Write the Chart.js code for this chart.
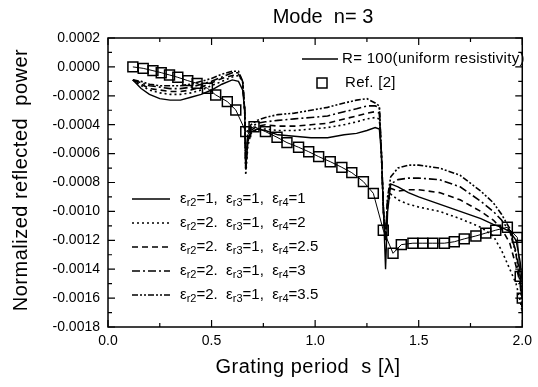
<!DOCTYPE html>
<html>
<head>
<meta charset="utf-8">
<script src="https://cdn.jsdelivr.net/npm/chart.js@4.4.1/dist/chart.umd.min.js"></script>
<style>
  html, body { margin: 0; padding: 0; background: #fff; }
</style>
</head>
<body>
<canvas id="chart" width="538" height="387"></canvas>
<script>
// grating period s [lambda] shared by the five computed curves
const periods = [0.12, 0.16, 0.2, 0.25, 0.3, 0.35, 0.4, 0.45, 0.5, 0.55, 0.6, 0.63, 0.65, 0.66, 0.665, 0.675, 0.69,
  0.72, 0.76, 0.82, 0.9, 0.98, 1.06, 1.14, 1.2, 1.25, 1.29, 1.31, 1.32, 1.33, 1.34, 1.35, 1.365,
  1.4, 1.45, 1.5, 1.6, 1.7, 1.8, 1.86, 1.9, 1.94, 1.97, 1.99, 2.0];

// normalized reflected power for each permittivity set
const power_r4_1 = [-0.00009, -0.00015, -0.00019, -0.00022, -0.00023, -0.00023, -0.00021, -0.00019, -0.00016, -0.00012, -0.00009, -0.0001, -0.00016, -0.0003, -0.0007, -0.00052, -0.00045,
  -0.00043, -0.00044, -0.00047, -0.00048, -0.00049, -0.00049, -0.00047, -0.00046, -0.00044, -0.00042, -0.00043, -0.0006, -0.001, -0.0014, -0.001, -0.00081,
  -0.00083, -0.00087, -0.0009, -0.00095, -0.001, -0.00105, -0.00109, -0.00111, -0.00114, -0.0012, -0.00135, -0.0015];
const power_r4_2 = [-0.00009, -0.00013, -0.00016, -0.00018, -0.00019, -0.00019, -0.00018, -0.00016, -0.00013, -0.0001, -0.00007, -0.00006, -0.0001, -0.0003, -0.00075, -0.00055, -0.00046,
  -0.00043, -0.00043, -0.00044, -0.00044, -0.00043, -0.00042, -0.0004, -0.00038, -0.00036, -0.00035, -0.00036, -0.0006, -0.001, -0.0012, -0.00095, -0.00088,
  -0.00092, -0.00095, -0.00097, -0.001, -0.00105, -0.00111, -0.00117, -0.00127, -0.0014, -0.0015, -0.00162, -0.0017];
const power_r4_25 = [-0.00009, -0.00012, -0.00015, -0.00016, -0.00017, -0.00017, -0.00016, -0.00014, -0.00011, -0.00008, -0.00006, -0.00005, -0.0001, -0.0003, -0.00072, -0.0005, -0.00044,
  -0.00041, -0.0004, -0.00041, -0.00041, -0.0004, -0.00039, -0.00036, -0.00034, -0.00032, -0.00031, -0.00032, -0.0006, -0.001, -0.0012, -0.00093, -0.00084,
  -0.00086, -0.00085, -0.00085, -0.00087, -0.00092, -0.001, -0.00106, -0.00112, -0.00122, -0.00138, -0.0015, -0.0016];
const power_r4_3 = [-0.00009, -0.00011, -0.00013, -0.00014, -0.00015, -0.00015, -0.00014, -0.00012, -0.0001, -0.00007, -0.00004, -0.00004, -0.0001, -0.0003, -0.0007, -0.00048, -0.00042,
  -0.00039, -0.00038, -0.00037, -0.00036, -0.00035, -0.00034, -0.00031, -0.00029, -0.00027, -0.00027, -0.00028, -0.0006, -0.001, -0.0012, -0.0009, -0.00081,
  -0.00078, -0.00077, -0.00077, -0.00078, -0.00083, -0.00093, -0.001, -0.00106, -0.00114, -0.00128, -0.00145, -0.0016];
const power_r4_35 = [-0.00009, -0.0001, -0.00012, -0.00013, -0.00013, -0.00013, -0.00012, -0.0001, -0.00008, -0.00005, -0.00003, -0.00003, -0.0001, -0.0003, -0.00068, -0.00045, -0.0004,
  -0.00037, -0.00035, -0.00033, -0.00032, -0.0003, -0.00028, -0.00025, -0.00023, -0.00022, -0.00025, -0.00027, -0.0006, -0.001, -0.0012, -0.0009, -0.00076,
  -0.0007, -0.00068, -0.00068, -0.0007, -0.00075, -0.00086, -0.00094, -0.00102, -0.00112, -0.0013, -0.0015, -0.0017];

// Ref. [2] points
const refPeriods = [0.12, 0.17, 0.217, 0.257, 0.297, 0.337, 0.385, 0.43, 0.48, 0.52, 0.576, 0.617, 0.665, 0.705, 0.76, 0.816, 0.864,
  0.92, 0.969, 1.017, 1.073, 1.129, 1.177, 1.233, 1.281, 1.329, 1.376, 1.416, 1.472, 1.52, 1.568, 1.624, 1.672, 1.72, 1.776,
  1.824, 1.872, 1.928, 1.976, 1.99, 2.0];
const refPower = [0.0, -0.00001, -0.000026, -0.00004, -0.000056, -0.000072, -0.000095, -0.000114, -0.000148, -0.000194, -0.00024, -0.000298, -0.000448, -0.000414, -0.000448, -0.000487, -0.000524,
  -0.000556, -0.000587, -0.000621, -0.000656, -0.000695, -0.000732, -0.000794, -0.000875, -0.00113, -0.00129, -0.00123, -0.00122, -0.00122, -0.00122, -0.00122, -0.00121, -0.00119, -0.00117,
  -0.00115, -0.00113, -0.00111, -0.00118, -0.00145, -0.0016];

const curveLabels = ['1', '2', '2.5', '3', '3.5'];
const curveR2 = ['1,', '2.', '2.', '2.', '2.'];
const curveDash = [[], [2, 3], [6, 4], [8, 3, 2, 3], [6, 2, 2, 2, 2, 2]];
const curveValues = [power_r4_1, power_r4_2, power_r4_25, power_r4_3, power_r4_35];

const FONT = '"Liberation Sans", Arial, Helvetica, sans-serif';

const toPoints = (xs, ys) => xs.map((x, i) => ({ x: x, y: ys[i] }));

let datasets = curveValues.map((vals, i) => ({
  label: 'er4=' + curveLabels[i],
  data: toPoints(periods, vals),
  showLine: true,
  borderColor: '#000',
  borderWidth: i === 0 ? 1.4 : 1.6,
  borderDash: curveDash[i],
  pointRadius: 0,
  tension: 0,
  fill: false
}));
datasets.push({
  label: 'Ref. [2]',
  data: toPoints(refPeriods, refPower),
  borderColor: '#000',
  borderWidth: 1,
  showLine: true,
  pointStyle: 'rect',
  pointRadius: 7,
  pointBorderWidth: 1.5,
  pointBorderColor: '#000',
  pointBackgroundColor: 'rgba(0,0,0,0)',
  fill: false
});

// draw "εr2=1,  εr3=1,  εr4=1" style text with subscripts
function drawEpsText(ctx, x, y, r2, r4) {
  const parts = [['ε', 0], ['r2', 1], ['=' + r2 + '  ', 0], ['ε', 0], ['r3', 1], ['=1,  ', 0], ['ε', 0], ['r4', 1], ['=' + r4, 0]];
  ctx.textBaseline = 'middle';
  ctx.textAlign = 'left';
  parts.forEach(p => {
    ctx.font = p[1] ? '11px ' + FONT : '15px ' + FONT;
    ctx.fillText(p[0], x, y + (p[1] ? 4 : 0));
    x += ctx.measureText(p[0]).width;
  });
}

const decor = {
  id: 'decor',
  afterDraw(chart) {
    const ctx = chart.ctx;
    const a = chart.chartArea;
    const xs = chart.scales.x;
    const ys = chart.scales.y;
    ctx.save();
    ctx.strokeStyle = '#000';
    ctx.fillStyle = '#000';
    ctx.setLineDash([]);

    // frame
    ctx.lineWidth = 1.5;
    ctx.strokeRect(a.left, a.top, a.right - a.left, a.bottom - a.top);

    // inward ticks on all sides
    ctx.lineWidth = 1.2;
    for (let i = 0; i <= 8; i++) {
      const px = xs.getPixelForValue(i * 0.25);
      const len = i % 2 === 0 ? 7 : 4;
      ctx.beginPath();
      ctx.moveTo(px, a.bottom); ctx.lineTo(px, a.bottom - len);
      ctx.moveTo(px, a.top); ctx.lineTo(px, a.top + len);
      ctx.stroke();
    }
    for (let i = 0; i <= 20; i++) {
      const py = ys.getPixelForValue(0.0002 - i * 0.0001);
      const len = i % 2 === 0 ? 7 : 4;
      ctx.beginPath();
      ctx.moveTo(a.left, py); ctx.lineTo(a.left + len, py);
      ctx.moveTo(a.right, py); ctx.lineTo(a.right - len, py);
      ctx.stroke();
    }

    // titles
    ctx.textAlign = 'center';
    ctx.textBaseline = 'middle';
    ctx.font = '20px ' + FONT;
    ctx.fillText('Mode  n= 3', 323, 17);
    ctx.letterSpacing = '0.5px';
    ctx.font = '20px ' + FONT;
    ctx.fillText('Grating period  s [λ]', 308, 367);
    ctx.save();
    ctx.translate(21, 180);
    ctx.rotate(-Math.PI / 2);
    ctx.fillText('Normalized reflected  power', 0, 0);
    ctx.restore();
    ctx.letterSpacing = '0px';

    // top-right legend
    ctx.lineWidth = 1.4;
    ctx.beginPath();
    ctx.moveTo(302, 59); ctx.lineTo(338, 59);
    ctx.stroke();
    ctx.textAlign = 'left';
    ctx.font = '15px ' + FONT;
    ctx.letterSpacing = '0.3px';
    ctx.fillText('R= 100(uniform resistivity)', 342, 59);
    ctx.lineWidth = 1.5;
    ctx.strokeRect(317, 78, 10, 10);
    ctx.fillText('Ref. [2]', 345, 83);
    ctx.letterSpacing = '0px';

    // bottom-left legend
    for (let i = 0; i < 5; i++) {
      const y = 199 + i * 24;
      ctx.lineWidth = 1.6;
      ctx.setLineDash(curveDash[i]);
      ctx.beginPath();
      ctx.moveTo(132, y); ctx.lineTo(170, y);
      ctx.stroke();
      ctx.setLineDash([]);
      drawEpsText(ctx, 180, y, curveR2[i], curveLabels[i]);
    }
    ctx.restore();
  }
};

new Chart(document.getElementById('chart'), {
  type: 'scatter',
  data: { datasets: datasets },
  options: {
    responsive: false,
    animation: false,
    layout: { padding: { top: 38, right: 13, left: 0, bottom: 0 } },
    plugins: {
      legend: { display: false },
      tooltip: { enabled: false },
      title: { display: false }
    },
    scales: {
      x: {
        type: 'linear',
        min: 0,
        max: 2,
        afterFit: s => { s.height = 60; },
        grid: { drawOnChartArea: false, drawTicks: false, display: false },
        border: { display: false },
        ticks: {
          stepSize: 0.5,
          padding: 6,
          color: '#000',
          font: { family: FONT, size: 14 },
          callback: v => v.toFixed(1)
        }
      },
      y: {
        type: 'linear',
        min: -0.0018,
        max: 0.0002,
        afterFit: s => { s.width = 108; },
        grid: { drawOnChartArea: false, drawTicks: false, display: false },
        border: { display: false },
        ticks: {
          stepSize: 0.0002,
          padding: 8,
          color: '#000',
          font: { family: FONT, size: 14 },
          callback: v => v.toFixed(4)
        }
      }
    }
  },
  plugins: [decor]
});
</script>
</body>
</html>
